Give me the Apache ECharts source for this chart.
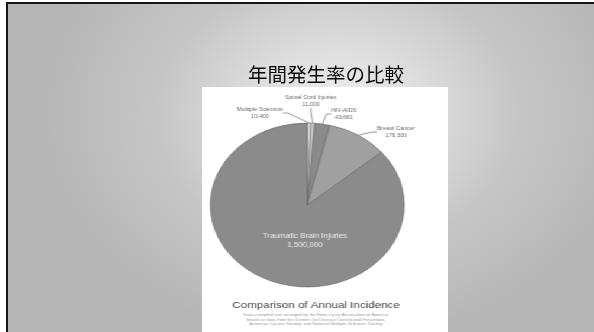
<!DOCTYPE html>
<html>
<head>
<meta charset="utf-8">
<script src="https://cdn.jsdelivr.net/npm/echarts@6/dist/echarts.min.js"></script>
<style>
  html, body { margin: 0; padding: 0; background: #fff; }
  #slide { position: absolute; left: 0; top: 0; width: 594px; height: 332px; overflow: hidden; background: #fff; }
  #frame {
    position: absolute; left: 6px; top: 2px; width: 590px; height: 332px;
    border-left: 2px solid #151515; border-top: 2px solid #151515;
    background: radial-gradient(ellipse 300px 230px at 330px 110px, #f0f0f0 0%, #dedede 28%, #c6c6c6 60%, #b6b6b6 100%);
  }
  #heading { position: absolute; left: 0; top: 0; width: 594px; height: 100px; }
  #panel {
    position: absolute; left: 202px; top: 87px; width: 208px; height: 245px;
    background: #fff; transform: scaleX(1.183); transform-origin: 0 0;
  }
</style>
</head>
<body>
<div id="slide">
  <div id="frame"></div>
  <div id="heading"></div>
  <div id="panel"></div>
</div>
<script>
// Annual incidence by condition
const conditions = ['Multiple Sclerosis', 'Spinal Cord Injuries', 'HIV-AIDS', 'Breast Cancer', 'Traumatic Brain Injuries'];
const incidence = [10400, 11000, 43681, 176300, 1500000];
const sliceColors = ['#dedede', '#cdcdcd', '#8a8a8a', '#a0a0a0', '#8b8b8b'];

const slideTitle = '年間発生率の比較';
const chartTitle = 'Comparison of Annual Incidence';
const sourceNote = [
  'Data compiled and arranged by the Brain Injury Association of America',
  'based on data from the Centers for Disease Control and Prevention,',
  'American Cancer Society, and National Multiple Sclerosis Society'
];

// label anchor points inside the (unscaled) panel
const labelSpots = {
  'Multiple Sclerosis': [49, 26],
  'Spinal Cord Injuries': [92, 14],
  'HIV-AIDS': [120, 27],
  'Breast Cancer': [164, 45],
  'Traumatic Brain Injuries': [87, 154]
};

const heading = echarts.init(document.getElementById('heading'), null, { renderer: 'canvas' });
heading.setOption({
  animation: false,
  graphic: [{
    type: 'text', x: 326, y: 75,
    style: {
      text: slideTitle, align: 'center', verticalAlign: 'middle',
      font: '19.5px "Noto Sans CJK JP"', fill: '#0a0a0a'
    }
  }]
});

const fmt = v => v.toLocaleString('en-US');

const panel = echarts.init(document.getElementById('panel'), null, { renderer: 'canvas' });
panel.setOption({
  animation: false,
  series: [{
    type: 'pie',
    center: [89, 118],
    radius: 82,
    startAngle: 90,
    clockwise: true,
    avoidLabelOverlap: false,
    data: conditions.map((name, i) => {
      const big = name === 'Traumatic Brain Injuries';
      return {
        name, value: incidence[i],
        itemStyle: { color: sliceColors[i] },
        label: big
          ? { position: 'inside', fontSize: 6.8, color: '#ececec', lineHeight: 9 }
          : { position: 'outside' },
        labelLine: { show: !big }
      };
    }),
    itemStyle: { borderColor: '#5a5a5a', borderWidth: 0.5 },
    label: {
      formatter: p => p.name + '\n' + fmt(p.value),
      fontFamily: 'Liberation Sans',
      fontSize: 5,
      lineHeight: 7,
      color: '#6a6a6a',
      align: 'center'
    },
    labelLine: {
      length: 6, length2: 4,
      lineStyle: { color: '#555', width: 0.6 }
    },
    labelLayout: p => {
      const spot = labelSpots[conditions[p.dataIndex]];
      return { x: spot[0], y: spot[1], align: 'center', verticalAlign: 'middle' };
    },
    emphasis: { disabled: true }
  }],
  graphic: [
    {
      type: 'text', x: 96.4, y: 218,
      style: {
        text: chartTitle, align: 'center', verticalAlign: 'middle',
        font: '9.8px "Liberation Sans"', fill: '#3c3c3c'
      }
    },
    ...sourceNote.map((line, i) => ({
      type: 'text', x: 96.4, y: 228 + i * 4.6,
      style: {
        text: line, align: 'center', verticalAlign: 'middle',
        font: '3.9px "Liberation Sans"', fill: '#9a9a9a'
      }
    }))
  ]
});
</script>
</body>
</html>
